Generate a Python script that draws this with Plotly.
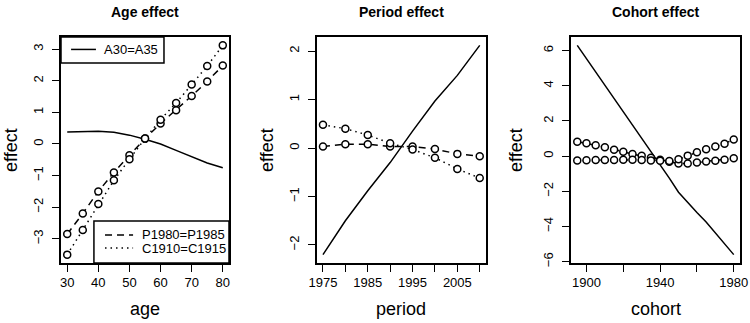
import plotly.graph_objects as go

# ---------------- data ----------------
age = [30, 35, 40, 45, 50, 55, 60, 65, 70, 75, 80]
age_A = [0.38, 0.38, 0.40, 0.37, 0.28, 0.15, 0.00, -0.20, -0.40, -0.60, -0.75]
age_P = [-2.85, -2.20, -1.50, -0.90, -0.36, 0.17, 0.65, 1.07, 1.52, 1.98, 2.48]
age_C = [-3.50, -2.72, -1.90, -1.15, -0.48, 0.17, 0.77, 1.30, 1.88, 2.47, 3.12]

period = [1975, 1980, 1985, 1990, 1995, 2000, 2005, 2010]
per_A = [-2.20, -1.50, -0.88, -0.30, 0.35, 0.97, 1.50, 2.12]
per_P = [0.03, 0.08, 0.08, 0.03, 0.03, -0.02, -0.12, -0.17]
per_C = [0.48, 0.40, 0.27, 0.10, -0.03, -0.20, -0.43, -0.62]

cohort = [1895, 1900, 1905, 1910, 1915, 1920, 1925, 1930, 1935, 1940,
          1945, 1950, 1955, 1960, 1965, 1970, 1975, 1980]
coh_A = [6.30, 5.55, 4.80, 4.05, 3.30, 2.55, 1.80, 1.05, 0.30, -0.45,
         -1.25, -2.05, -2.65, -3.20, -3.75, -4.35, -4.95, -5.60]
coh_P = [0.82, 0.74, 0.62, 0.51, 0.36, 0.25, 0.12, 0.02, -0.09, -0.20,
         -0.32, -0.42, -0.42, -0.36, -0.30, -0.26, -0.20, -0.12]
coh_C = [-0.25, -0.23, -0.22, -0.22, -0.22, -0.21, -0.21, -0.22, -0.24, -0.26,
         -0.27, -0.18, 0.03, 0.22, 0.39, 0.55, 0.71, 0.95]

titles = ["Age effect", "Period effect", "Cohort effect"]
xlabels = ["age", "period", "cohort"]
legend_top = ["A30=A35"]
legend_bottom = ["P1980=P1985", "C1910=C1915"]

age_xticks = [30, 40, 50, 60, 70, 80]
per_xticks = [1975, 1980, 1985, 1990, 1995, 2000, 2005, 2010]
per_xtext = ["1975", "", "1985", "", "1995", "", "2005", ""]
coh_xticks = [1900, 1920, 1940, 1960, 1980]
coh_xtext = ["1900", "", "1940", "", "1980"]

# ---------------- layout geometry ----------------
W, H = 750, 323
FONT = "Liberation Sans, Arial, sans-serif"
xdoms = [(61, 229), (316.7, 486), (571, 740)]
ytop, ybot = 37, 263

fig = go.Figure()

LW = 1.5
def add_series(xs, ys, dash, axn, markers):
    xa = "x" if axn == 1 else f"x{axn}"
    ya = "y" if axn == 1 else f"y{axn}"
    fig.add_trace(go.Scatter(
        x=xs, y=ys, xaxis=xa, yaxis=ya, showlegend=False,
        mode="lines+markers" if markers else "lines",
        line=dict(color="black", width=LW, dash=dash),
        marker=dict(symbol="circle", size=7, color="white",
                    line=dict(color="black", width=1.5)),
    ))

DASH = "7px,5px"
DOT = "1.5px,4px"

add_series(age, age_A, "solid", 1, False)
add_series(age, age_P, DASH, 1, True)
add_series(age, age_C, DOT, 1, True)

add_series(period, per_A, "solid", 2, False)
add_series(period, per_P, DASH, 2, True)
add_series(period, per_C, DOT, 2, True)

add_series(cohort, coh_A, "solid", 3, False)
add_series(cohort, coh_P, DASH, 3, True)
add_series(cohort, coh_C, DOT, 3, True)

def pad(lo, hi):
    d = (hi - lo) * 0.04
    return [lo - d, hi + d]

xranges = [pad(min(age), max(age)), pad(min(period), max(period)), pad(min(cohort), max(cohort))]
yranges = [pad(min(age_C), max(age_C)), pad(min(per_A), max(per_A)), pad(min(coh_A), max(coh_A))]
xtickvals = [age_xticks, per_xticks, coh_xticks]
xticktext = [[str(v) for v in age_xticks], per_xtext, coh_xtext]
ytickvals = [[-3, -2, -1, 0, 1, 2, 3], [-2, -1, 0, 1, 2], [-6, -4, -2, 0, 2, 4, 6]]

axis_common = dict(showline=True, mirror=True, linecolor="black", linewidth=1.5,
                   ticks="outside", ticklen=7, tickwidth=1, tickcolor="black",
                   showgrid=False, zeroline=False, automargin=False,
                   tickfont=dict(family=FONT, size=13, color="black"))

ydom = [1 - ybot / H, 1 - ytop / H]
layout = {}
for i in range(3):
    n = "" if i == 0 else str(i + 1)
    layout[f"xaxis{n}"] = dict(axis_common, domain=[xdoms[i][0] / W, xdoms[i][1] / W],
                               range=xranges[i], anchor=f"y{n}",
                               tickmode="array", tickvals=xtickvals[i], ticktext=xticktext[i])
    layout[f"yaxis{n}"] = dict(axis_common, domain=ydom, range=yranges[i], anchor=f"x{n}",
                               tickmode="array", tickvals=ytickvals[i],
                               ticktext=[str(v).replace("-", "\u2212") for v in ytickvals[i]],
                               tickangle=-90, ticklabelstandoff=4)

annotations = []
shapes = []
for i in range(3):
    cx = (xdoms[i][0] + xdoms[i][1]) / 2 / W
    annotations.append(dict(text=f"<b>{titles[i]}</b>", x=cx, y=1 - 12 / H, xref="paper", yref="paper",
                            showarrow=False, font=dict(family=FONT, size=14, color="black"),
                            xanchor="center", yanchor="middle"))
    annotations.append(dict(text=xlabels[i], x=cx, y=1 - 309 / H, xref="paper", yref="paper",
                            showarrow=False, font=dict(family=FONT, size=18, color="black"),
                            xanchor="center", yanchor="middle"))
    ylx = [11, 267, 516][i]
    annotations.append(dict(text="effect", x=ylx / W, y=1 - 150 / H, xref="paper", yref="paper",
                            showarrow=False, textangle=-90,
                            font=dict(family=FONT, size=18, color="black"),
                            xanchor="center", yanchor="middle"))

# legends in the age panel (drawn in axis-domain units)
lf = dict(family=FONT, size=13, color="black")
shapes.append(dict(type="rect", xref="x domain", yref="y domain", x0=0, x1=0.613, y0=0.885, y1=1,
                   line=dict(color="black", width=1.5), fillcolor="white", layer="above"))
shapes.append(dict(type="line", xref="x domain", yref="y domain", x0=0.06, x1=0.208, y0=0.945, y1=0.945,
                   line=dict(color="black", width=LW)))
annotations.append(dict(text=legend_top[0], x=0.244, y=0.945, xref="x domain", yref="y domain",
                        showarrow=False, font=lf, xanchor="left", yanchor="middle"))

shapes.append(dict(type="rect", xref="x domain", yref="y domain", x0=0.196, x1=1, y0=0, y1=0.186,
                   line=dict(color="black", width=1.5), fillcolor="white", layer="above"))
shapes.append(dict(type="line", xref="x domain", yref="y domain", x0=0.262, x1=0.429, y0=0.124, y1=0.124,
                   line=dict(color="black", width=LW, dash=DASH)))
shapes.append(dict(type="line", xref="x domain", yref="y domain", x0=0.262, x1=0.429, y0=0.066, y1=0.066,
                   line=dict(color="black", width=LW, dash=DOT)))
annotations.append(dict(text=legend_bottom[0], x=0.47, y=0.124, xref="x domain", yref="y domain",
                        showarrow=False, font=lf, xanchor="left", yanchor="middle"))
annotations.append(dict(text=legend_bottom[1], x=0.47, y=0.066, xref="x domain", yref="y domain",
                        showarrow=False, font=lf, xanchor="left", yanchor="middle"))

fig.update_layout(template="none", width=W, height=H, margin=dict(l=0, r=0, t=0, b=0),
                  paper_bgcolor="white", plot_bgcolor="white",
                  annotations=annotations, shapes=shapes, **layout)

fig.write_html("out.html", config={"displayModeBar": False},
               post_script="document.body.style.margin='0px';document.body.style.overflow='hidden';")
